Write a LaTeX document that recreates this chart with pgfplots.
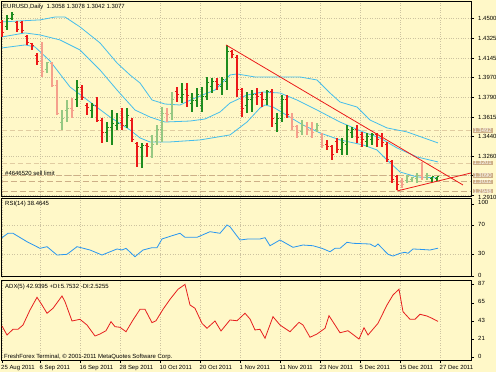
\documentclass[border=0pt]{standalone}
\usepackage{fontspec}
\setmainfont{Liberation Sans}
\usepackage{pgfplots}
\pgfplotsset{compat=1.18}
\usepackage{pgfplotstable}
\usetikzlibrary{plotmarks}

\definecolor{bgc}{RGB}{255,248,200}
\definecolor{gridc}{RGB}{205,195,160}
\definecolor{upc}{RGB}{30,140,30}
\definecolor{dnc}{RGB}{235,25,25}
\definecolor{upp}{RGB}{150,200,130}
\definecolor{dnp}{RGB}{245,160,140}
\definecolor{bbc}{RGB}{70,190,235}
\definecolor{rsic}{RGB}{40,150,240}
\definecolor{adxc}{RGB}{230,30,30}
\definecolor{ordc}{RGB}{205,175,135}
\newcommand\sm{\fontsize{6}{7}\selectfont}

\pgfplotstableread{
i o h l c
1 1.4424 1.4531 1.4397 1.4504
2 1.4504 1.4558 1.4487 1.4540
15 1.3767 1.3947 1.3704 1.3875
18 1.3677 1.3740 1.3605 1.3722
21 1.3471 1.3569 1.3390 1.3516
22 1.3516 1.3677 1.3363 1.3560
23 1.3542 1.3650 1.3498 1.3560
25 1.3542 1.3695 1.3516 1.3632
28 1.3336 1.3381 1.3156 1.3354
36 1.3785 1.3920 1.3740 1.3812
38 1.3740 1.3830 1.3659 1.3758
39 1.3758 1.3875 1.3704 1.3812
40 1.3722 1.3884 1.3659 1.3794
41 1.3794 1.3974 1.3767 1.3920
42 1.3884 1.3965 1.3830 1.3929
44 1.3884 1.3974 1.3812 1.3947
45 1.3929 1.4262 1.3857 1.4199
49 1.3722 1.3839 1.3650 1.3767
50 1.3767 1.3857 1.3659 1.3812
53 1.3767 1.3857 1.3722 1.3839
55 1.3560 1.3650 1.3480 1.3605
56 1.3605 1.3812 1.3569 1.3767
68 1.3318 1.3426 1.3273 1.3381
69 1.3363 1.3542 1.3273 1.3498
70 1.3471 1.3525 1.3426 1.3498
73 1.3390 1.3471 1.3345 1.3435
74 1.3408 1.3471 1.3363 1.3453
86 1.3057 1.3075 1.3030 1.3075
87 1.3058 1.3078 1.3042 1.3077
}\upbars

\pgfplotstableread{
i o h l c
0 1.4460 1.4487 1.4334 1.4370
3 1.4460 1.4478 1.4379 1.4397
4 1.4460 1.4478 1.4370 1.4388
5 1.4334 1.4352 1.4262 1.4280
6 1.4271 1.4280 1.4217 1.4253
7 1.4163 1.4190 1.4082 1.4109
16 1.3875 1.3902 1.3767 1.3785
17 1.3722 1.3740 1.3632 1.3704
19 1.3722 1.3794 1.3569 1.3587
20 1.3587 1.3605 1.3381 1.3471
24 1.3569 1.3695 1.3498 1.3542
26 1.3587 1.3605 1.3390 1.3408
27 1.3372 1.3390 1.3165 1.3345
29 1.3354 1.3381 1.3255 1.3345
35 1.3839 1.3884 1.3749 1.3812
37 1.3857 1.3920 1.3704 1.3803
43 1.3929 1.3965 1.3857 1.3902
46 1.4199 1.4217 1.4145 1.4172
47 1.4145 1.4172 1.3794 1.3857
48 1.3857 1.3875 1.3614 1.3695
51 1.3812 1.3875 1.3722 1.3794
52 1.3812 1.3839 1.3704 1.3767
54 1.3839 1.3866 1.3525 1.3605
57 1.3767 1.3812 1.3605 1.3641
65 1.3363 1.3408 1.3318 1.3345
66 1.3345 1.3363 1.3228 1.3273
67 1.3390 1.3426 1.3291 1.3318
71 1.3498 1.3542 1.3381 1.3426
72 1.3453 1.3480 1.3345 1.3408
75 1.3453 1.3471 1.3345 1.3408
76 1.3435 1.3471 1.3345 1.3381
77 1.3363 1.3390 1.3210 1.3228
78 1.3210 1.3228 1.3021 1.3048
79 1.3075 1.3093 1.2958 1.3003
}\dnbars

\pgfplotstableread{
i o h l c
9 1.4037 1.4109 1.4010 1.4100
12 1.3569 1.3677 1.3498 1.3605
13 1.3677 1.3767 1.3569 1.3695
30 1.3336 1.3453 1.3246 1.3363
31 1.3390 1.3542 1.3363 1.3498
32 1.3498 1.3704 1.3390 1.3650
34 1.3650 1.3839 1.3587 1.3767
60 1.3480 1.3587 1.3453 1.3534
63 1.3498 1.3560 1.3480 1.3534
81 1.3039 1.3093 1.3021 1.3075
82 1.3048 1.3075 1.3030 1.3066
83 1.3057 1.3111 1.3021 1.3084
85 1.3066 1.3111 1.3048 1.3084
}\uppale

\pgfplotstableread{
i o h l c
8 1.4109 1.4289 1.3974 1.4019
10 1.4091 1.4109 1.3884 1.3893
11 1.3893 1.3947 1.3632 1.3650
14 1.3695 1.3785 1.3605 1.3677
33 1.3650 1.3695 1.3569 1.3641
58 1.3614 1.3650 1.3498 1.3525
59 1.3525 1.3542 1.3426 1.3471
61 1.3525 1.3569 1.3453 1.3498
62 1.3498 1.3569 1.3426 1.3471
64 1.3453 1.3471 1.3336 1.3354
80 1.3030 1.3066 1.2976 1.3003
84 1.3084 1.3210 1.3048 1.3066
}\dnpale

\newcommand\ohlc[2]{%
  \addplot[only marks, mark=*, mark size=0pt, mark options={draw=none, fill=none}, forget plot,
    error bars/.cd, y dir=both, y explicit, error mark=none,
    error bar style={draw=#2, line width=1.2bp}]
    table[x=i, y expr={(\thisrow{h}+\thisrow{l})/2}, y error expr={(\thisrow{h}-\thisrow{l})/2}] {#1};
  \addplot[only marks, mark=-, mark size=1bp, forget plot, mark options={draw=#2, line width=1bp}]
    table[x expr={\thisrow{i}-0.2}, y=o] {#1};
  \addplot[only marks, mark=-, mark size=1bp, forget plot, mark options={draw=#2, line width=1bp}]
    table[x expr={\thisrow{i}+0.2}, y=c] {#1};
}

\pgfplotsset{
  mt/.style={
    scale only axis, width=469.5bp, xmin=-0.1, xmax=93.8,
    anchor=south west,
    axis line style={line width=1bp, black},
    xtick={0,7.7,15.7,23.7,31.7,39.7,47.7,55.7,63.7,71.7,79.7,87.7},
    xmajorgrids=true,
    grid style={dotted, gridc, line width=0.5bp},
    ytick pos=right, yticklabel pos=right,
    tick align=outside, major tick length=3bp,
    y tick style={black, line width=0.6bp},
    yticklabel style={font=\sm, anchor=west, inner sep=0pt, xshift=4bp, yshift=1bp, text height=4.2bp, text depth=0bp},
    tick label style={font=\sm},
  }
}
\tikzset{ordlab/.style={fill=ordc, text=white, font=\sm, inner xsep=0.8bp, inner ysep=0.2bp, text height=4bp, text depth=0bp, anchor=west, xshift=1.5bp}}

\begin{document}
\begin{tikzpicture}
\useasboundingbox (0,0) rectangle (496bp,372bp);
\fill[bgc] (0,0) rectangle (496bp,372bp);

% ---------------- price panel ----------------
\begin{axis}[mt, at={(1.5bp,175bp)}, height=195bp,
  ymin=1.2895, ymax=1.4648,
  ytick={1.3090,1.3260,1.3440,1.3615,1.3790,1.3970,1.4145,1.4325,1.4500},
  yticklabels={,1.3260,1.3440,1.3615,1.3790,1.3970,1.4145,1.4325,1.4500},
  yticklabel style={yshift=-1bp},
  extra y ticks={1.2910}, extra y tick labels={1.2910},
  extra y tick style={yticklabel style={yshift=-2.5bp}},
  ymajorgrids=true,
  xticklabels={}, x tick style={draw=none}, clip=false]

% order lines
\addplot[ordc!60!bgc, dash pattern=on 5bp off 3bp, line width=0.7bp] coordinates {(-0.1,1.3492) (93.8,1.3492)};
\addplot[ordc!60!bgc, dash pattern=on 5bp off 3bp, line width=0.7bp] coordinates {(-0.1,1.3201) (93.8,1.3201)};
\addplot[ordc, dash pattern=on 6bp off 3bp, line width=0.9bp] coordinates {(-0.1,1.3090) (93.8,1.3090)};
\addplot[ordc, dash pattern=on 6bp off 3bp, line width=0.9bp] coordinates {(-0.1,1.3032) (93.8,1.3032)};
\addplot[ordc, dash pattern=on 6bp off 3bp, line width=0.9bp] coordinates {(-0.1,1.2948) (93.8,1.2948)};

% Bollinger bands (upper, middle, lower)
\addplot[bbc, line width=0.8bp] coordinates {
(0,1.4469) (3.6,1.4478) (7.6,1.4487) (10.6,1.4513) (12.6,1.4513) (15.6,1.4424) (19.6,1.4280)
(23,1.4100) (25.6,1.3992) (27.6,1.3920) (30,1.3767) (32.6,1.3731) (35.6,1.3722) (38.6,1.3785)
(42.6,1.3857) (45.6,1.3992) (47,1.4001) (50.6,1.3974) (55.6,1.3974) (59.6,1.3974) (63,1.3947)
(65.6,1.3830) (67.6,1.3749) (71,1.3704) (73.6,1.3587) (77,1.3516) (81,1.3480) (87.2,1.3381)};
\addplot[bbc, line width=0.8bp] coordinates {
(0,1.4334) (4.6,1.4370) (7.6,1.4352) (11.6,1.4307) (15.6,1.4217) (19.6,1.4037) (23,1.3857)
(26.6,1.3677) (29.6,1.3614) (32.6,1.3569) (37.6,1.3578) (40.6,1.3596) (43.6,1.3659) (45.6,1.3740)
(49,1.3812) (52.2,1.3839) (55.6,1.3830) (59,1.3767) (63,1.3677) (67.6,1.3569) (72.2,1.3480)
(75.6,1.3426) (79,1.3336) (83,1.3255) (87.2,1.3210)};
\addplot[bbc, line width=0.8bp] coordinates {
(0,1.4235) (4.6,1.4262) (6.6,1.4244) (9.6,1.4118) (13.6,1.3884) (17.6,1.3749) (21.6,1.3614)
(25.6,1.3498) (27.6,1.3426) (29.6,1.3390) (33.6,1.3390) (39.6,1.3408) (45.6,1.3453) (49,1.3569)
(51.6,1.3695) (52.6,1.3722) (54.2,1.3704) (56.2,1.3650) (60.2,1.3542) (63.6,1.3471) (67.6,1.3408)
(72.2,1.3363) (75,1.3318) (77,1.3228) (79.6,1.3120) (83,1.3075) (87.2,1.3066)};

% bars
\ohlc{\dnpale}{dnp}
\ohlc{\uppale}{upp}
\ohlc{\dnbars}{dnc}
\ohlc{\upbars}{upc}

% trend lines
\addplot[dnc, line width=0.8bp] coordinates {(44.8,1.4262) (92.2,1.3003)};
\addplot[dnc, line width=0.8bp] coordinates {(79,1.2949) (93.8,1.3111)};

% order price labels
\node[ordlab] at (axis cs:93.8,1.3492) {1.3492};
\node[ordlab] at (axis cs:93.8,1.3201) {1.3201};
\node[ordlab] at (axis cs:93.8,1.3090) {1.3090};
\node[ordlab] at (axis cs:93.8,1.3032) {1.3032};
\node[ordlab] at (axis cs:93.8,1.2948) {1.2948};
\end{axis}

% ---------------- RSI panel ----------------
\begin{axis}[mt, at={(1.5bp,95bp)}, height=78bp,
  ymin=-1.5, ymax=106.8,
  ytick={0,30,70,100}, yticklabels={0,30,70,100},
  xticklabels={}, x tick style={draw=none}]
\addplot[gridc, dotted, line width=0.6bp] coordinates {(-0.1,30) (93.8,30)};
\addplot[gridc, dotted, line width=0.6bp] coordinates {(-0.1,70) (93.8,70)};
\addplot[rsic, line width=0.8bp] coordinates {
(0,53.1) (1.2,59.2) (2.2,59.2) (5,47.5) (7.6,38.3) (9,40.6) (11,29) (13,30) (15,40.6) (17.6,36)
(20,29) (23,37.4) (24,36) (24.8,38.3) (26.6,26.7) (28.2,36) (30,39.2) (31,39.2) (32,51.3) (34,55.8)
(35.6,59.2) (36.6,53.6) (39,53.6) (41.6,61.4) (43.6,59.2) (45,70.7) (45.6,68.3) (47.6,49.9) (49.2,51.3)
(51.6,51.3) (52.6,53.1) (53.6,41.9) (55.6,49.9) (58.2,39.7) (60.2,42.9) (62.2,41.9) (64,38.3) (65.6,33.6)
(66.6,38.3) (67.6,38.3) (69,46.7) (70.2,45.3) (73.6,44.3) (74.6,40.6) (75.2,44.3) (77.2,30) (78.2,27.6)
(79.6,31.4) (80.6,32.8) (81.2,31.4) (82.2,37.4) (83.6,36.9) (85.6,36) (87.2,38.5)};
\end{axis}

% ---------------- ADX panel ----------------
\begin{axis}[mt, at={(1.5bp,12bp)}, height=80bp,
  ymin=-3.1, ymax=92.25,
  ytick={0,21,43,65,87}, yticklabels={0,21,43,65,87},
  xtick pos=bottom, x tick style={black, line width=0.6bp},
  xticklabels={25 Aug 2011,6 Sep 2011,16 Sep 2011,28 Sep 2011,10 Oct 2011,20 Oct 2011,1 Nov 2011,11 Nov 2011,23 Nov 2011,5 Dec 2011,15 Dec 2011,27 Dec 2011},
  xticklabel style={anchor=north west, inner sep=0pt, yshift=-2bp, xshift=-1bp}]
\addplot[adxc, line width=0.8bp] coordinates {
(0,37.4) (1,26.7) (2.2,33.5) (3.2,33.5) (4.2,38.6) (5.6,56.5) (7,71.6) (8,62.5) (9,52.6) (10.2,58.5)
(12,73.2) (12.6,66.4) (14,43.4) (15.6,45.4) (17,38.6) (18.6,25.5) (19.6,27.9) (20.8,31.8) (21.8,42.6)
(22.6,36.6) (23.6,35.9) (24.8,30.6) (26.2,44.6) (27.6,57.3) (28.6,57.3) (30,41.4) (30.8,43.7) (32.2,57.3)
(33.6,69.2) (35.2,81.2) (36.6,87) (37.6,62.5) (38.6,58.5) (40,40.6) (41,34.7) (42.6,43.4) (43.8,31.5)
(45.6,44.6) (47,43.7) (48.6,52.6) (49.6,45.8) (50.6,32.7) (51.6,33.5) (52.6,22.8) (54.2,48.5) (55.6,38.6)
(57.6,30.6) (59.4,41.8) (60.2,38.6) (61.6,24) (63,27.9) (64.6,34.7) (65.4,49.7) (67.6,29.4) (69.2,31.8)
(71.4,21.9) (72.4,35.4) (73.2,26.7) (75.2,40.6) (77,62.5) (78.2,74.4) (79.4,81.2) (80.2,54.5) (81.6,45.4)
(82.6,45.4) (83.6,51.4) (85,49.3) (86,46.6) (87.2,42.9)};
\end{axis}

% ---------------- texts ----------------
\node[anchor=west, inner sep=0pt, font=\sm] at (3bp,365.5bp) {EURUSD,Daily\ \ 1.3058 1.3078 1.3042 1.3077};
\node[anchor=west, inner sep=0pt, font=\sm] at (5bp,199bp) {\#4646520 sell limit};
\node[anchor=west, inner sep=0pt, font=\sm] at (5bp,168bp) {RSI(14) 38.4645};
\node[anchor=west, inner sep=0pt, font=\sm] at (5bp,85bp) {ADX(5) 42.9395 +DI:5.7532 -DI:2.5255};
\node[anchor=west, inner sep=0pt, font=\sm] at (4bp,15.5bp) {FreshForex Terminal, © 2001-2011 MetaQuotes Software Corp.};
\end{tikzpicture}
\end{document}
